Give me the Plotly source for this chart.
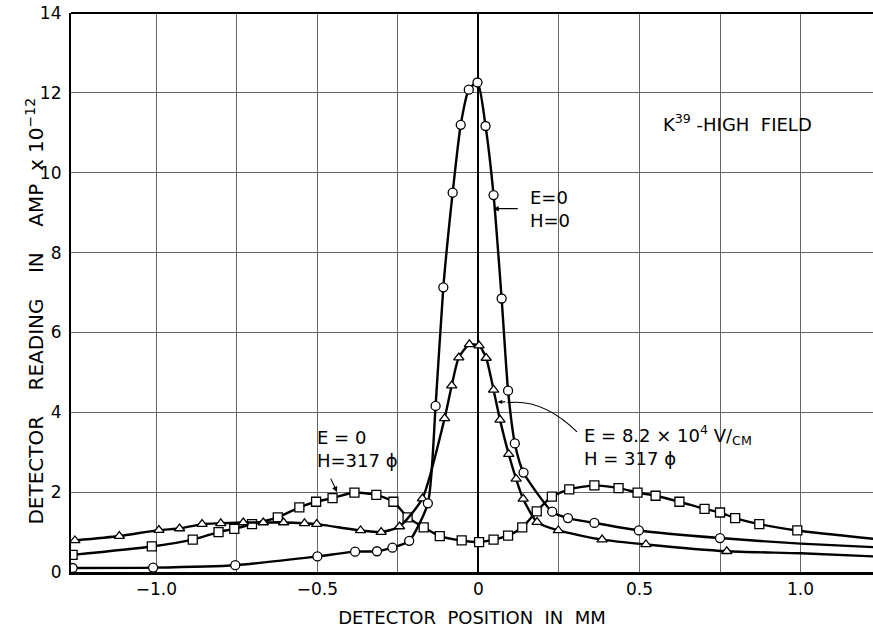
import plotly.graph_objects as go

# ---- data ----
circ_x = [-1.26, -1.01, -0.755, -0.5, -0.383, -0.315, -0.267, -0.215, -0.157, -0.133,
          -0.109, -0.08, -0.055, -0.03, -0.003, 0.022, 0.047, 0.072, 0.092, 0.113,
          0.14, 0.229, 0.278, 0.36, 0.498, 0.75]
circ_y = [0.10, 0.11, 0.17, 0.39, 0.51, 0.52, 0.61, 0.78, 1.72, 4.16,
          7.13, 9.50, 11.20, 12.08, 12.26, 11.17, 9.44, 6.85, 4.54, 3.22,
          2.49, 1.51, 1.35, 1.23, 1.04, 0.85]
circ_tail_x = [1.0, 1.23]
circ_tail_y = [0.71, 0.62]

tri_x = [-1.253, -1.115, -0.992, -0.928, -0.858, -0.80, -0.73, -0.668, -0.605, -0.54,
         -0.502, -0.366, -0.302, -0.245, -0.174, -0.105, -0.083, -0.061, -0.028, 0.002,
         0.024, 0.047, 0.067, 0.094, 0.117, 0.139, 0.182, 0.248, 0.384, 0.52, 0.771]
tri_y = [0.79, 0.90, 1.05, 1.09, 1.20, 1.22, 1.24, 1.24, 1.24, 1.22,
         1.20, 1.04, 1.00, 1.14, 1.84, 3.85, 4.67, 5.37, 5.70, 5.67,
         5.36, 4.56, 3.81, 2.95, 2.33, 1.83, 1.25, 1.04, 0.81, 0.69, 0.52]
tri_tail_x = [1.0, 1.23]
tri_tail_y = [0.47, 0.39]

sq_x = [-1.26, -1.014, -0.887, -0.807, -0.758, -0.703, -0.623, -0.556, -0.504, -0.453,
        -0.385, -0.317, -0.264, -0.22, -0.17, -0.12, -0.052, 0.002, 0.047, 0.092,
        0.136, 0.181, 0.228, 0.282, 0.36, 0.435, 0.494, 0.55, 0.624, 0.702,
        0.75, 0.797, 0.872, 0.99]
sq_y = [0.43, 0.64, 0.81, 1.00, 1.08, 1.20, 1.37, 1.62, 1.76, 1.85,
        1.99, 1.93, 1.76, 1.37, 1.12, 0.90, 0.79, 0.75, 0.81, 0.91,
        1.12, 1.52, 1.89, 2.07, 2.17, 2.10, 1.99, 1.91, 1.76, 1.58,
        1.49, 1.35, 1.20, 1.04]
sq_tail_x = [1.23]
sq_tail_y = [0.83]

x_grid = [-1.0, -0.75, -0.5, -0.25, 0, 0.25, 0.5, 0.75, 1.0]
x_text = ["\u22121.0", "", "\u22120.5", "", "0", "", "0.5", "", "1.0"]
y_ticks = [0, 2, 4, 6, 8, 10, 12, 14]

FONT = "DejaVu Sans"
NB = "\u00a0"
fig = go.Figure()

def add_series(xs, ys, tx, ty, symbol):
    fig.add_trace(go.Scatter(x=xs + tx, y=ys + ty, mode="lines",
                             line=dict(color="black", width=2.4, shape="spline", smoothing=0.6),
                             hoverinfo="skip", showlegend=False))
    fig.add_trace(go.Scatter(x=xs, y=ys, mode="markers",
                             marker=dict(symbol=symbol, size=9, color="white",
                                         line=dict(color="black", width=1.3)),
                             showlegend=False))

add_series(sq_x, sq_y, sq_tail_x, sq_tail_y, "square")
add_series(tri_x, tri_y, tri_tail_x, tri_tail_y, "triangle-up")
add_series(circ_x, circ_y, circ_tail_x, circ_tail_y, "circle")

fig.update_layout(
    width=873, height=630,
    margin=dict(l=71, r=0, t=13, b=58),
    paper_bgcolor="white", plot_bgcolor="white",
    font=dict(family=FONT, size=17, color="black"),
    xaxis=dict(range=[-1.265, 1.225], tickvals=x_grid, ticktext=x_text,
               showgrid=True, gridcolor="#666", gridwidth=0.8,
               zeroline=True, zerolinecolor="black", zerolinewidth=2,
               showline=True, linecolor="black", linewidth=2.5,
               ticks="", tickfont=dict(size=17),
               title=dict(text="DETECTOR" + NB * 2 + "POSITION" + NB * 2 + "IN" + NB * 2 + "MM",
                          standoff=14, font=dict(size=18))),
    yaxis=dict(range=[0, 14], tickvals=y_ticks,
               showgrid=True, gridcolor="#666", gridwidth=0.8,
               zeroline=False, showline=True, linecolor="black", linewidth=2.2,
               ticks="", tickfont=dict(size=17), ticklabelstandoff=4),
    shapes=[dict(type="line", xref="paper", yref="paper", x0=0, x1=1, y0=1, y1=1,
                 line=dict(color="black", width=2.2)),
            dict(type="path", xref="x", yref="y",
                 path="M 0.306,3.51 Q 0.20,4.35 0.09,4.24",
                 line=dict(color="black", width=1.1))],
    annotations=[
        dict(xref="paper", yref="paper", x=-0.064, y=0.467, textangle=-90,
             text="DETECTOR" + NB * 4 + "READING" + NB * 4 + "IN" + NB * 4 + "AMP" + NB * 2
                  + "x" + NB + "10<sup>\u221212</sup>",
             showarrow=False, font=dict(size=20)),
        dict(x=0.805, y=11.25, text="K<sup>39</sup> -HIGH" + NB * 2 + "FIELD", showarrow=False,
             font=dict(size=18)),
        dict(x=0.154, y=9.08, xanchor="left", align="left", text="E=0<br>H=0",
             showarrow=False, font=dict(size=18)),
        dict(x=0.046, y=9.10, ax=26, ay=0, text="", showarrow=True, arrowhead=2,
             arrowsize=1, arrowwidth=1.1, arrowcolor="black"),
        dict(x=-0.507, y=3.07, xanchor="left", align="left", text="E = 0<br>H=317 \u03d5",
             showarrow=False, font=dict(size=18)),
        dict(x=-0.439, y=2.0, ax=-7, ay=-15, text="", showarrow=True, arrowhead=2,
             arrowsize=1, arrowwidth=1.1, arrowcolor="black"),
        dict(x=0.322, y=3.18, xanchor="left", align="left",
             text="E = 8.2 \u00d7 10<sup>4</sup> V/<sub>CM</sub><br>H = 317 \u03d5",
             showarrow=False, font=dict(size=18)),
        dict(x=0.06, y=4.26, ax=9, ay=0, text="", showarrow=True, arrowhead=2,
             arrowsize=0.8, arrowwidth=1.1, arrowcolor="black"),
    ],
)

fig.write_html("out.html", config={"displayModeBar": False},
               post_script="document.body.style.margin='0';")
